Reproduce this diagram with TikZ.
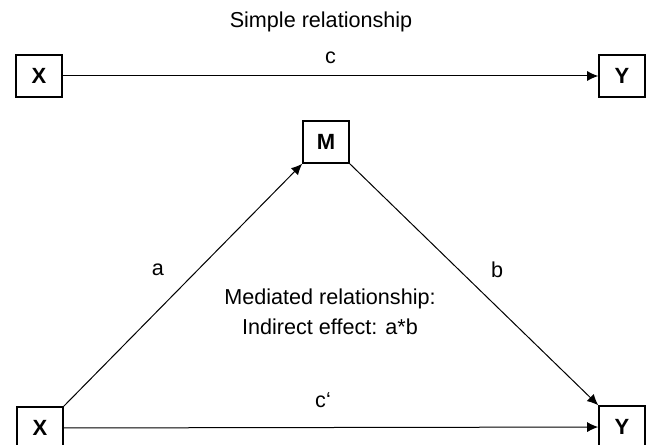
\documentclass[tikz,border=0pt]{standalone}
\usepackage{fontspec}
\setmainfont{Liberation Sans}
\usetikzlibrary{arrows.meta}
\tikzset{
    var/.style={draw, thick, fill=white, minimum width=23pt, minimum height=21pt,
        inner sep=0pt, font=\fontsize{11}{12}\selectfont\bfseries},
    path/.style={line width=0.5pt, -{Latex[length=5.5pt, width=5pt]}},
    lab/.style={font=\fontsize{10.8}{13}\selectfont, inner sep=0pt}
}
\begin{document}
\begin{tikzpicture}[x=0.5pt, y=-0.5pt]
    \useasboundingbox (0,0) rectangle (647,444);
    % simple relationship
    \node[lab] (title) at (321,22) {Simple relationship};
    \node[var] (x1) at (39,76) {X};
    \node[var] (y1) at (622,76) {Y};
    \draw[path] (x1) -- (y1) node[lab, midway, above=6pt] (c) {c};
    % mediated relationship
    \node[var] (m) at (326,142) {M};
    \node[var] (x2) at (40,428) {X};
    \node[var] (y2) at (622,427) {Y};
    \draw[path] (x2.north east) -- (m.south west);
    \draw[path] (m.south east) -- (y2.north west);
    \draw[path] (x2) -- (y2);
    \node[lab] (a) at (158,270) {a};
    \node[lab] (b) at (497,270) {b};
    \node[lab] (c2) at (323,400) {c‘};
    \node[lab, align=center] (med) at (330,312) {Mediated relationship:\\[2pt]Indirect effect: a*b};
\end{tikzpicture}
\end{document}
